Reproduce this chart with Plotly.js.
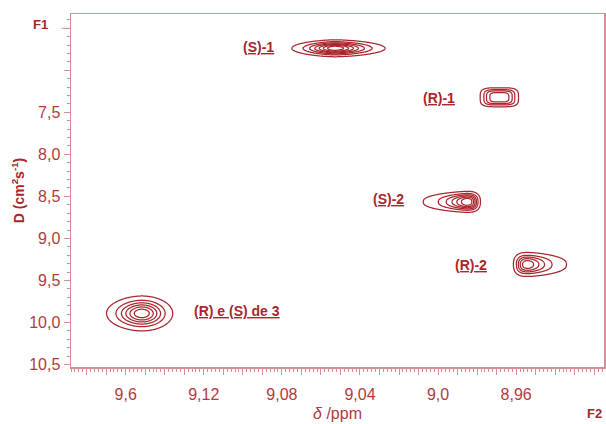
<!DOCTYPE html>
<html>
<head>
<meta charset="utf-8">
<script src="https://cdn.plot.ly/plotly-3.0.1.min.js"></script>
<style>html,body{margin:0;padding:0;background:#fff;}#chart{width:606px;height:424px;}</style>
</head>
<body>
<div id="chart"></div>
<script>
// ---- data ----
const peakLabels = ['(S)-1', '(R)-1', '(S)-2', '(R)-2', '(R) e (S) de 3'];
const peakShift  = [9.0528, 8.9686, 8.9855, 8.9537, 9.1518];   // δ / ppm (F2)
const peakD      = [6.738, 7.321, 8.565, 9.310, 9.893];         // D (F1)
const peakExtentHigh = [0.0221, 0.0098, 0.0221, 0.0077, 0.0180]; // outer ring, toward higher ppm
const peakExtentLow  = [0.0257, 0.0098, 0.0072, 0.0195, 0.0159]; // outer ring, toward lower ppm
const peakExtentD    = [0.101, 0.113, 0.125, 0.143, 0.208];      // outer ring half height in D
const peakRings      = [7, 4, 6, 5, 6];

const xTickVals   = [9.16, 9.12, 9.08, 9.04, 9.00, 8.96];
const xTickLabels = ['9,6', '9,12', '9,08', '9,04', '9,0', '8,96'];
const yTickVals   = [7.5, 8.0, 8.5, 9.0, 9.5, 10.0, 10.5];
const yTickLabels = ['7,5', '8,0', '8,5', '9,0', '9,5', '10,0', '10,5'];

// ---- styling ----
const lineColor = '#a8262c';
const textColor = '#b23a40';
const frameColor = '#d88e94';
const font = 'Liberation Sans, Arial, sans-serif';
// contour shape exponents (high-ppm side, low-ppm side, vertical)
const shapeHigh = [1.6, 4, 1.3, 3.0, 1.8];
const shapeLow  = [1.6, 4, 3.0, 1.4, 2.0];
const shapeV    = [2.0, 4, 2.5, 2.5, 2.0];
const labelShift = [[-76, 1], [-60, -1], [-78, 3], [-57, -1], [95, 2]];

const outerLevel = 0.08;
const traces = [];
for (let i = 0; i < peakLabels.length; i++) {
  const x0 = peakShift[i], y0 = peakD[i];
  const eH = peakExtentHigh[i], eL = peakExtentLow[i], eV = peakExtentD[i];
  const r0 = -Math.log(outerLevel);
  const wH = eH / Math.pow(r0, 1 / shapeHigh[i]);
  const wL = eL / Math.pow(r0, 1 / shapeLow[i]);
  const wV = eV / Math.pow(r0, 1 / shapeV[i]);
  const nx = 160, ny = 90;
  const xs = [], ys = [], z = [];
  for (let k = 0; k < nx; k++) xs.push(x0 - 1.5 * eL + (1.5 * (eH + eL)) * k / (nx - 1));
  for (let j = 0; j < ny; j++) ys.push(y0 - 1.5 * eV + 3 * eV * j / (ny - 1));
  for (let j = 0; j < ny; j++) {
    const row = [];
    const dy = Math.abs(ys[j] - y0) / wV;
    for (let k = 0; k < nx; k++) {
      const dx = xs[k] - x0;
      const t = dx >= 0 ? Math.pow(dx / wH, shapeHigh[i]) : Math.pow(-dx / wL, shapeLow[i]);
      row.push(Math.exp(-t - Math.pow(dy, shapeV[i])));
    }
    z.push(row);
  }
  const n = peakRings[i];
  const end = 0.86;
  const size = (end - outerLevel) / (n - 1);
  traces.push({
    type: 'contour', x: xs, y: ys, z: z,
    autocontour: false,
    contours: {coloring: 'lines', start: outerLevel, end: end + 1e-6, size: size},
    line: {width: 1.25, smoothing: 1},
    colorscale: [[0, lineColor], [1, lineColor]],
    showscale: false, hoverinfo: 'skip', name: peakLabels[i]
  });
}

// ticks
const xAll = [], xText = [];
for (let v = 892; v <= 918; v++) {
  const val = v / 100;
  xAll.push(val);
  const idx = xTickVals.findIndex(t => Math.abs(t - val) < 1e-6);
  xText.push(idx >= 0 ? xTickLabels[idx] : '');
}
const yAll = [6.5, 7.0].concat(yTickVals);
const yText = ['', ''].concat(yTickLabels);

const annotations = peakLabels.map((lab, i) => ({
  x: peakShift[i], y: peakD[i], xref: 'x', yref: 'y',
  text: '<b><u>' + lab + '</u></b>', showarrow: false,
  xshift: labelShift[i][0], yshift: labelShift[i][1],
  font: {family: font, size: 14, color: lineColor}
}));
annotations.push({xref: 'paper', yref: 'y', x: -0.039, y: 6.46, xanchor: 'right', yanchor: 'middle',
  text: '<b>F1</b>', showarrow: false, font: {family: font, size: 13, color: lineColor}});
annotations.push({xref: 'paper', yref: 'paper', x: 1.0, y: -0.105, xanchor: 'right', yanchor: 'top',
  text: '<b>F2</b>', showarrow: false, font: {family: font, size: 13, color: lineColor}});

const layout = {
  width: 606, height: 424,
  margin: {l: 71, r: 2, t: 14, b: 57},
  paper_bgcolor: '#ffffff', plot_bgcolor: '#ffffff',
  showlegend: false,
  font: {family: font, color: textColor},
  xaxis: {
    range: [9.188, 8.915], showgrid: false, zeroline: false,
    showline: true, mirror: true, linecolor: frameColor, linewidth: 1.5,
    tickmode: 'array', tickvals: xAll, ticktext: xText,
    ticks: 'outside', ticklen: 6, tickcolor: frameColor, tickwidth: 1,
    ticklabelstandoff: 6,
    tickfont: {family: font, size: 16, color: textColor},
    minor: {tickmode: 'linear', tick0: 0, dtick: 0.002, ticks: 'outside', ticklen: 3, tickcolor: frameColor, tickwidth: 1},
    title: {text: '<i>δ</i> /ppm', font: {family: font, size: 16, color: textColor}, standoff: 6}
  },
  yaxis: {
    range: [10.53, 6.33], showgrid: false, zeroline: false,
    showline: true, mirror: true, linecolor: frameColor, linewidth: 1.5,
    tickmode: 'array', tickvals: yAll, ticktext: yText,
    ticks: 'outside', ticklen: 6, tickcolor: frameColor, tickwidth: 1,
    tickfont: {family: font, size: 16, color: textColor},
    minor: {tickmode: 'linear', tick0: 0, dtick: 0.1, ticks: 'outside', ticklen: 3, tickcolor: frameColor, tickwidth: 1},
    title: {text: '<b>D (cm<sup>2</sup>s<sup>-1</sup>)</b>', font: {family: font, size: 14, color: lineColor}, standoff: 1}
  },
  shapes: [{type: 'line', xref: 'paper', yref: 'y', x0: -0.018, x1: 0, y0: 6.5, y1: 6.5,
    line: {color: frameColor, width: 1}}],
  annotations: annotations
};

Plotly.newPlot('chart', traces, layout, {staticPlot: true, displayModeBar: false});
</script>
</body>
</html>
